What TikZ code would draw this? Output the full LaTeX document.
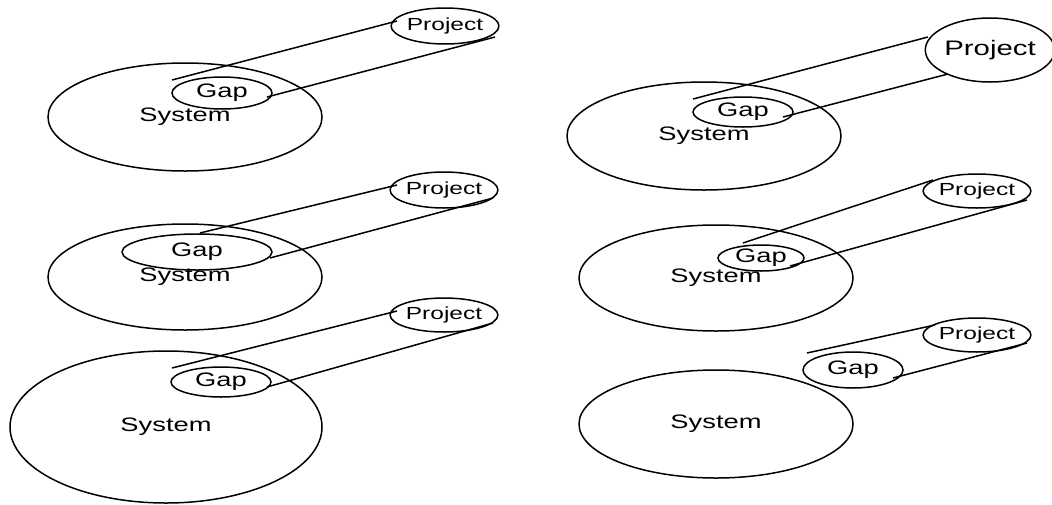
\documentclass[tikz,border=0pt]{standalone}
\usepackage{fontspec}
\setmainfont{Liberation Sans}
\usetikzlibrary{shapes.geometric,calc}
% wide sans lettering
\newcommand\widetext[1]{\scalebox{1.4}[1]{#1}}
\begin{document}
\begin{tikzpicture}[x=1pt,y=-1pt,line width=1.5pt,
  oval/.style={ellipse,draw,inner sep=0pt},
  big/.style={font=\fontsize{19.5}{21}\selectfont},
  small/.style={font=\fontsize{17.5}{19}\selectfont},
  large/.style={font=\fontsize{21}{23}\selectfont},
  link/.style={line width=1.5pt}]
\useasboundingbox (0,0) rectangle (1052,504);

% ---- row 1, left
\node[oval,big,minimum width=274pt,minimum height=108pt] (s1) at (185,117) {\widetext{System}};
\node[oval,big,minimum width=100pt,minimum height=32pt] (g1) at (222,93) {\widetext{Gap}};
\node[oval,small,minimum width=100pt,minimum height=36pt] (p1) at (445,26) {\widetext{Project}};
\draw[link] ($(g1)+(-50,-13)$) -- ($(p1)+(-48,-5)$);
\draw[link] ($(g1)+(45,4)$) -- ($(p1)+(50,11)$);

% ---- row 1, right
\node[oval,big,minimum width=274pt,minimum height=108pt] (s2) at (704,136) {\widetext{System}};
\node[oval,big,minimum width=100pt,minimum height=30pt] (g2) at (743,112) {\widetext{Gap}};
\node[oval,large,minimum width=124pt,minimum height=64pt] (p2) at (990,50) {\widetext{Project}};
\draw[link] ($(g2)+(-50,-13)$) -- ($(p2)+(-62,-13)$);
\draw[link] ($(g2)+(40,5)$) -- ($(p2)+(-42,24)$);

% ---- row 2, left
\node[oval,big,minimum width=274pt,minimum height=106pt] (s3) at (185,277) {\widetext{System}};
\node[oval,big,minimum width=150pt,minimum height=36pt] (g3) at (197,252) {\widetext{Gap}};
\node[oval,small,minimum width=98pt,minimum height=36pt] (p3) at (444,190) {\widetext{Project}};
\draw[link] ($(g3)+(3,-19)$) -- ($(p3)+(-47,-5)$);
\draw[link] ($(g3)+(73,6)$) -- ($(p3)+(49,8)$);

% ---- row 2, right
\node[oval,big,minimum width=274pt,minimum height=106pt] (s4) at (716,278) {\widetext{System}};
\node[oval,big,minimum width=86pt,minimum height=26pt] (g4) at (761,258) {\widetext{Gap}};
\node[oval,small,minimum width=98pt,minimum height=34pt] (p4) at (977,191) {\widetext{Project}};
\draw[link] ($(g4)+(-18,-15)$) -- ($(p4)+(-44,-11)$);
\draw[link] ($(g4)+(29,8)$) -- ($(p4)+(50,9)$);

% ---- row 3, left
\node[oval,big,minimum width=312pt,minimum height=152pt] (s5) at (166,427) {\widetext{System}};
\node[oval,big,minimum width=100pt,minimum height=30pt] (g5) at (221,382) {\widetext{Gap}};
\node[oval,small,minimum width=98pt,minimum height=34pt] (p5) at (444,315) {\widetext{Project}};
\draw[link] ($(g5)+(-49,-14)$) -- ($(p5)+(-47,-4)$);
\draw[link] ($(g5)+(46,5)$) -- ($(p5)+(49,8)$);

% ---- row 3, right
\node[oval,big,minimum width=274pt,minimum height=108pt] (s6) at (716,424) {\widetext{System}};
\node[oval,big,minimum width=100pt,minimum height=36pt] (g6) at (853,370) {\widetext{Gap}};
\node[oval,small,minimum width=98pt,minimum height=34pt] (p6) at (977,335) {\widetext{Project}};
\draw[link] ($(g6)+(-46,-17)$) -- ($(p6)+(-42,-10)$);
\draw[link] ($(g6)+(40,8)$) -- ($(p6)+(50,8)$);
\end{tikzpicture}
\end{document}
